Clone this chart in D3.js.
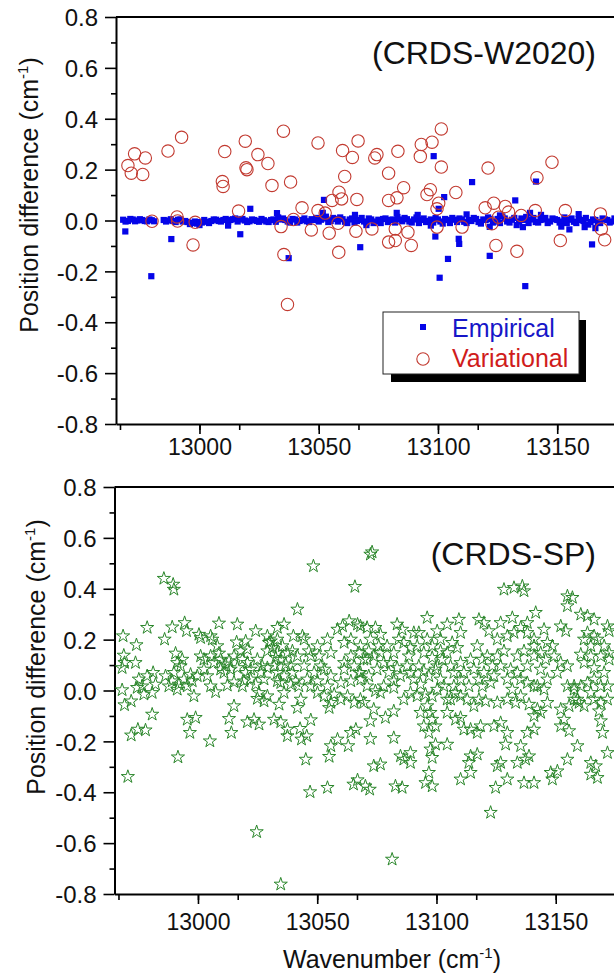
<!DOCTYPE html>
<html>
<head>
<meta charset="utf-8">
<script src="https://cdn.jsdelivr.net/npm/d3@7"></script>
<style>
  body { margin: 0; background: #fff; }
  svg { display: block; font-family: Arial, 'Liberation Sans', sans-serif; }
</style>
</head>
<body>
<svg id="chart" width="614" height="976"></svg>
<script>
// [wavenumber, position difference]
const empirical = [
  [12968,0.003],[12970,-0.002],[12972,0.004],[12974,0.000],[12976,0.002],[12978,-0.003],[12980,0.001],
  [12985,0.002],[12987,0.000],[12989,-0.002],[12991,0.003],[12993,-0.004],[12995,-0.006],[12997,-0.010],
  [12999,-0.012],[13001,-0.008],[13003,-0.005],[13005,-0.002],[13007,0.003],[13009,-0.004],[13011,0.006],
  [13013,0.002],[13015,0.008],[13017,0.004],[13019,0.000],[13021,-0.003],[13023,0.002],[13025,-0.005],
  [13027,0.001],[13029,-0.006],[13031,0.004],[13033,0.012],[13035,0.008],[13037,-0.004],[13039,0.006],
  [13041,-0.008],[13043,0.002],[13045,-0.003],[13047,0.005],[13049,0.010],[13051,0.003],[13053,0.015],
  [13055,-0.002],[13057,0.006],[13059,0.012],[13061,-0.005],[13063,0.004],[13065,-0.008],[13067,0.002],
  [13069,-0.004],[13071,0.008],[13073,-0.010],[13075,0.003],[13077,0.006],[13079,-0.006],[13081,0.004],
  [13083,0.014],[13085,-0.003],[13087,0.005],[13089,-0.008],[13091,0.012],[13093,0.002],[13095,-0.006],
  [13097,0.004],[13099,0.010],[13101,-0.004],[13103,0.006],[13105,-0.010],[13107,0.003],[13109,0.008],
  [13111,-0.005],[13113,0.002],[13115,0.010],[13117,-0.006],[13119,0.004],[13121,0.012],[13123,-0.008],
  [13125,0.006],[13127,0.016],[13129,-0.004],[13131,0.003],[13133,-0.018],[13135,0.008],[13137,0.014],
  [13139,0.004],[13141,-0.006],[13143,0.002],[13145,0.010],[13147,-0.004],[13149,0.005],[13151,-0.008],
  [13153,0.012],[13155,0.003],[13157,-0.005],[13159,0.006],[13161,-0.002],[13163,-0.016],[13165,0.004],
  [13167,-0.006],[13169,0.008],[13171,0.002],[13173,-0.004],[13175,0.005],
  [12969,-0.004],[12971,0.006],[12973,-0.003],[12975,0.005],[12977,-0.002],[12979,0.004],[12981,-0.003],
  [12986,-0.004],[12988,0.005],[12990,-0.006],[12992,0.004],[12994,-0.002],[12996,-0.014],[12998,-0.004],
  [13000,-0.006],[13002,0.002],[13004,-0.010],[13006,0.004],[13008,-0.002],[13010,0.002],[13012,-0.005],
  [13014,0.005],[13016,-0.004],[13018,0.006],[13020,-0.006],[13022,0.004],[13024,-0.002],[13026,0.006],
  [13028,-0.004],[13030,0.002],[13032,-0.005],[13034,0.004],[13036,0.002],[13038,-0.008],[13040,0.004],
  [13042,-0.002],[13044,0.008],[13046,-0.006],[13048,0.002],[13050,-0.004],[13052,0.008],[13054,-0.006],
  [13056,0.010],[13058,-0.004],[13060,0.005],[13062,-0.010],[13064,0.008],[13066,-0.002],[13068,0.010],
  [13070,-0.008],[13072,0.004],[13074,-0.004],[13076,-0.010],[13078,0.008],[13080,0.002],[13082,-0.008],
  [13084,0.004],[13086,0.010],[13088,-0.004],[13090,0.004],[13092,-0.010],[13094,0.008],[13096,-0.002],
  [13098,-0.008],[13100,0.004],[13102,-0.012],[13104,0.002],[13106,0.010],[13108,-0.006],[13110,0.004],
  [13112,-0.010],[13114,-0.002],[13116,0.006],[13118,-0.012],[13120,0.002],[13122,0.006],[13124,-0.004],
  [13126,-0.010],[13128,0.008],[13130,-0.008],[13132,0.010],[13134,-0.004],[13136,0.002],[13138,-0.010],
  [13140,0.010],[13142,-0.008],[13144,0.004],[13146,-0.010],[13148,0.008],[13150,0.002],[13152,-0.004],
  [13154,-0.010],[13156,0.008],[13158,-0.010],[13160,0.002],[13162,0.010],[13164,-0.006],[13166,0.002],
  [13168,-0.010],[13170,0.004],[13172,-0.008],[13174,0.008],[13176,-0.002],
  [13032.5,0.029],[13051.7,0.030],[13065.2,0.022],[13082.7,0.030],[13091.5,0.022],[13126,0.020],
  [13138.6,0.030],[13143.2,0.022],[13012,-0.020],[13000,-0.018],[13070,-0.018],[13097,-0.020],
  [13121.7,-0.025],[13166,-0.030],[13159,0.025],[13112,0.024],
  [12968.9,-0.043],[12979.8,-0.219],[12988.2,-0.073],[13017.1,-0.054],[13021.3,0.046],[13037.4,-0.148],
  [13052.2,0.081],[13067.4,-0.105],[13098.2,0.253],[13114.3,0.151],[13141.1,0.153],[13102.6,0.092],
  [13100.3,0.046],[13132.4,0.079],[13098.9,-0.063],[13108.7,-0.072],[13108.9,-0.092],[13104.2,-0.151],
  [13100.7,-0.225],[13121.7,-0.139],[13136.6,-0.258],[13155.1,-0.035],[13164.6,-0.094],[13151.7,-0.024],
  [13161.5,-0.026],[13135.6,-0.026]
];

const variational = [
  [12970.0,0.216],[12972.8,0.262],[12977.3,0.246],[12971.4,0.186],[12976.2,0.181],[12986.8,0.273],
  [12992.5,0.327],[13010.6,0.271],[13019.2,0.312],[13024.5,0.259],[13028.7,0.224],[13019.5,0.207],
  [13019.9,0.200],[13009.6,0.153],[13009.9,0.134],[13030.4,0.138],[13038.2,0.151],[13035.2,0.351],
  [13049.7,0.305],[13060.0,0.275],[13064.1,0.248],[13066.5,0.313],[13060.9,0.173],[13058.5,0.111],
  [13059.6,0.085],[13066.0,0.083],[13043.0,0.050],[13049.7,0.039],[13016.4,0.037],[12980.1,-0.003],
  [12990.6,0.014],[12990.8,-0.002],[12998.2,-0.007],[13034.2,-0.024],[13039.4,0.004],[13046.9,-0.037],
  [13054.4,-0.050],[13058.1,-0.011],[13065.6,-0.042],[13055.6,0.079],[12997.3,-0.096],[13035.4,-0.134],
  [13058.4,-0.125],[13036.9,-0.330],[13052.7,0.029],
  [13074.4,0.259],[13073.5,0.246],[13083.2,0.272],[13093.0,0.299],[13097.5,0.308],[13092.6,0.252],
  [13101.4,0.360],[13101.4,0.210],[13079.3,0.186],[13085.6,0.129],[13079.3,0.079],[13082.8,0.089],
  [13096.8,0.121],[13095.4,0.102],[13107.5,0.110],[13100.3,0.068],[13099.6,0.046],[13079.3,-0.085],
  [13082.1,-0.079],[13088.8,-0.098],[13087.4,-0.046],[13082.1,-0.033],[13072.3,-0.033],[13099.6,-0.026],
  [13110.1,-0.026],[13121.0,0.206],[13119.8,0.050],[13123.4,0.068],[13128.2,0.055],[13129.6,0.033],
  [13125.4,0.013],[13122.6,-0.013],[13140.8,0.039],[13134.9,0.020],[13124.3,-0.098],[13133.1,-0.121],
  [13141.5,0.168],[13147.8,0.229],[13153.4,0.039],[13151.3,-0.079],[13168.1,0.026],[13168.5,-0.033],
  [13169.9,-0.076]
];

const crdsSP = [
  [12968.6,0.214],[12974.2,0.179],[12968.9,0.138],[12969.2,0.109],[12973.8,0.109],[12968.2,0.089],
  [12968.2,0.002],[12969.2,-0.057],[12972.0,-0.042],[12972.0,-0.176],[12974.8,-0.153],[12978.0,-0.156],
  [12970.6,-0.339],[12978.7,0.247],[12975.2,0.044],[12976.6,0.017],[12978.7,0.057],[12974.5,0.011],
  [12977.3,-0.015],[12980.8,-0.009],[12980.8,-0.094],[12981.2,0.070],[12985.7,0.440],[12989.6,0.417],
  [12989.9,0.397],[12986.0,0.201],[12989.2,0.249],[12994.4,0.266],[12995.2,0.234],[12990.6,0.146],
  [12991.3,0.109],[12992.7,0.096],[12986.4,0.057],[12987.8,0.017],[12989.2,0.037],[12992.0,0.024],
  [12991.3,0.004],[12996.9,0.063],[12997.6,0.037],[12998.3,-0.022],[12995.5,-0.114],[12999.0,-0.107],
  [12996.6,-0.166],[12991.6,-0.262],[13000.4,0.220],[13001.1,0.207],[13005.3,0.214],[13006.0,0.201],
  [13002.5,0.122],[13001.1,0.135],[13008.8,0.264],[13016.5,0.260],[13008.8,0.146],[13009.5,0.122],
  [13006.7,0.109],[13011.6,0.103],[13013.0,0.116],[13015.1,0.135],[13016.2,0.190],[13020.0,0.194],
  [13020.7,0.162],[13018.6,0.122],[13020.7,0.109],[13005.3,0.017],[13007.4,-0.006],[13012.3,0.020],
  [13015.1,0.033],[13018.6,0.017],[13019.3,0.037],[13022.1,0.044],[13015.1,-0.061],[13013.0,-0.111],
  [13014.0,-0.166],[13005.0,-0.199],[13002.5,0.083],[12999.7,0.057],[13003.9,0.057],[13009.5,0.083],
  [13013.7,0.083],[13016.5,0.089],[13024.2,0.234],[13029.1,0.214],[13030.5,0.194],[13031.2,0.168],
  [13029.1,0.155],[13033.3,0.247],[13036.1,0.260],[13041.7,0.319],[13040.0,0.214],[13043.8,0.214],
  [13044.5,0.201],[13033.3,0.148],[13034.7,0.122],[13031.9,0.096],[13033.3,0.070],[13036.1,0.057],
  [13033.3,0.037],[13039.6,0.155],[13041.7,0.135],[13026.3,0.070],[13027.7,0.044],[13024.2,0.024],
  [13025.6,-0.009],[13029.1,-0.022],[13027.7,-0.042],[13024.9,-0.032],[13020.7,-0.124],[13023.5,-0.114],
  [13025.6,-0.133],[13031.9,-0.114],[13034.7,-0.124],[13034.0,-0.055],[13037.5,-0.153],[13037.5,-0.179],
  [13043.1,-0.035],[13041.7,-0.068],[13042.8,-0.150],[13043.4,-0.192],[13045.6,-0.179],[13047.3,-0.116],
  [13045.2,-0.271],[13047.0,-0.399],[13024.6,-0.556],[13034.7,-0.762],[13048.4,0.489],[13036.1,-0.009],
  [13041.0,0.037],[13039.6,0.070],[13044.5,0.096],[13047.3,0.135],[13050.1,0.175],[13054.3,0.201],
  [13055.7,0.148],[13058.5,0.240],[13060.6,0.253],[13063.4,0.273],[13066.9,0.260],[13048.7,0.070],
  [13052.9,0.083],[13055.7,0.057],[13059.9,0.030],[13064.1,0.037],[13068.3,0.044],[13050.1,-0.009],
  [13052.9,-0.022],[13055.7,-0.048],[13059.9,-0.035],[13062.7,-0.022],[13065.5,-0.048],[13055.0,-0.068],
  [13058.5,-0.192],[13055.7,-0.218],[13055.0,-0.260],[13064.1,-0.166],[13066.2,-0.153],[13063.0,-0.218],
  [13054.3,-0.382],[13065.2,-0.369],[13066.9,-0.352],[13065.8,0.408],[13061.3,0.109],[13064.1,0.135],
  [13067.6,0.148],[13061.3,0.188],[13064.1,0.201],
  [13029.8,0.188],[13033.3,0.201],[13035.4,0.175],[13037.5,0.148],[13032.6,0.129],[13036.8,0.103],
  [13038.9,0.096],[13029.1,0.089],[13034.7,0.030],[13038.9,0.024],[13042.3,0.017],[13045.8,0.044],
  [13047.3,0.017],[13050.1,0.037],[13051.5,0.096],[13046.5,0.155],[13050.8,0.135],[13054.3,0.017],
  [13057.1,-0.015],[13061.3,0.083],[13065.5,0.096],[13067.6,0.070],[12993.4,0.122],[12989.9,0.070],
  [12994.1,0.044],[12995.5,0.017],[12982.2,0.024],[13005.3,0.135],[13008.1,0.175],[13010.9,0.070],
  [13017.9,0.155],[13020.0,0.070],[13022.1,0.083],[13024.9,0.122],[13026.9,0.096],
  [13073.0,0.544],[13072.3,0.535],[13068.1,0.253],[13070.9,0.247],[13074.4,0.247],[13076.5,0.220],
  [13068.1,0.175],[13071.6,0.155],[13069.5,0.122],[13073.7,0.135],[13076.5,0.148],[13068.1,0.070],
  [13071.6,0.057],[13075.1,0.083],[13077.9,0.109],[13080.0,0.070],[13082.1,0.037],[13070.9,0.017],
  [13074.4,-0.002],[13077.9,0.017],[13082.1,0.011],[13068.1,-0.035],[13073.7,-0.074],[13078.6,-0.107],
  [13082.1,-0.081],[13072.3,-0.120],[13069.5,-0.048],[13072.3,-0.190],[13082.1,-0.186],[13073.7,-0.297],
  [13076.5,-0.290],[13070.2,-0.376],[13072.0,-0.389],[13082.8,-0.376],[13085.6,-0.382],[13081.4,-0.664],
  [13083.5,0.260],[13085.6,0.240],[13084.2,0.201],[13082.1,0.148],[13080.7,0.109],[13083.5,0.089],
  [13084.9,0.057],[13088.4,0.135],[13090.5,0.227],[13092.6,0.227],[13096.1,0.286],[13096.1,0.201],
  [13098.2,0.175],[13100.3,0.234],[13101.7,0.201],[13092.6,0.096],[13094.7,0.076],[13096.8,0.057],
  [13099.6,0.083],[13101.7,0.044],[13090.5,0.044],[13093.3,0.024],[13091.9,-0.022],[13095.4,-0.015],
  [13098.2,-0.022],[13100.3,0.004],[13103.1,0.017],[13096.1,-0.061],[13097.5,-0.087],[13098.2,-0.114],
  [13094.7,-0.140],[13099.6,-0.140],[13096.8,-0.166],[13099.6,-0.212],[13097.5,-0.231],[13104.5,-0.212],
  [13086.3,-0.271],[13089.1,-0.284],[13098.2,-0.264],[13096.8,-0.323],[13095.4,-0.363],[13098.2,-0.376],
  [13101.7,0.155],[13102.4,0.122],[13089.1,-0.245],[13084.9,-0.258],[13104.5,0.260],[13109.4,0.279],
  [13106.6,0.188],[13108.7,0.168],[13110.1,0.227],[13110.1,0.109],[13111.5,0.070],[13108.0,-0.009],
  [13112.9,-0.035],[13110.1,-0.022],[13105.9,-0.035],[13104.5,-0.087],[13108.0,-0.114],[13110.1,-0.107],
  [13111.5,-0.153],[13114.3,-0.153],[13117.1,-0.166],[13118.5,-0.140],[13114.3,-0.258],[13117.1,-0.251],
  [13113.6,-0.284],[13114.3,-0.323],[13110.1,-0.349],[13117.8,0.279],[13119.9,0.266],[13122.0,0.234],
  [13117.1,0.175],[13119.2,0.122],[13119.9,0.070],[13122.7,0.030],[13119.2,0.017],[13117.8,-0.035],
  [13120.6,-0.042],[13122.7,-0.480],[13124.8,-0.382],[13125.5,-0.297],[13126.9,-0.284],[13129.7,-0.349],
  [13133.9,-0.284],[13137.4,-0.271],[13138.8,-0.258],[13136.7,-0.363],[13140.9,-0.363],[13129.0,-0.212],
  [13135.3,-0.218],[13138.1,-0.166],[13140.9,-0.153],[13129.7,-0.166],[13124.1,-0.140],[13126.9,-0.127],
  [13125.5,-0.048],[13129.7,-0.035],[13133.2,-0.048],[13135.3,-0.022],[13138.8,-0.055],[13135.3,0.044],
  [13138.1,0.030],[13140.9,0.017],[13133.9,0.070],[13131.1,0.083],[13126.9,0.096],[13124.1,0.057],
  [13125.5,0.135],[13128.3,0.155],[13133.9,0.135],[13136.7,0.155],[13125.5,0.201],[13129.7,0.214],
  [13132.5,0.227],[13135.3,0.247],[13138.1,0.227],[13140.9,0.201],[13126.9,0.266],[13131.8,0.286],
  [13138.1,0.266],[13128.3,0.397],[13132.5,0.404],[13136.0,0.410],[13136.7,0.391],[13141.6,0.306],
  [13140.9,0.175],[13143.7,0.148],[13145.1,0.240],[13143.7,0.083],[13142.3,0.017],[13145.1,0.004],
  [13146.5,-0.048],[13142.3,-0.074],[13140.9,-0.100],[13143.7,-0.087],[13145.8,0.122],[13149.3,0.135],
  [13152.1,0.109],[13150.7,0.070],[13154.9,0.096],[13152.1,0.253],[13154.2,0.234],[13154.9,0.371],
  [13157.0,0.365],[13154.9,0.332],[13152.1,-0.074],[13155.6,-0.061],[13153.5,-0.114],[13157.7,0.004],
  [13152.1,-0.140],[13155.6,-0.159],[13159.1,-0.218],[13154.9,-0.271],[13147.9,-0.323],[13150.7,-0.317],
  [13148.6,-0.349],[13160.5,0.299],[13163.3,0.293],[13166.1,0.279],[13161.9,0.201],[13164.7,0.175],
  [13167.5,0.201],[13170.3,0.175],[13172.4,0.234],[13171.7,0.253],[13160.5,0.142],[13164.7,0.135],
  [13168.9,0.135],[13172.4,0.148],[13157.7,0.017],[13160.5,0.017],[13163.3,0.030],[13166.1,0.044],
  [13168.9,0.017],[13171.7,0.017],[13159.1,-0.035],[13161.9,-0.061],[13166.1,-0.035],[13168.9,-0.048],
  [13171.7,-0.035],[13168.2,-0.081],[13168.9,-0.120],[13169.6,-0.166],[13171.7,-0.245],[13164.7,-0.284],
  [13166.8,-0.297],[13164.7,-0.330],[13167.5,-0.343],
  [13072.3,0.201],[13075.8,0.175],[13079.3,0.175],[13086.3,0.188],[13089.1,0.168],[13087.7,0.096],
  [13089.1,0.070],[13104.5,0.148],[13105.9,0.096],[13107.3,0.070],[13114.3,0.122],[13115.7,0.083],
  [13117.8,0.044],[13113.6,0.017],[13115.7,-0.061],[13121.3,0.135],[13123.4,0.096],[13129.7,0.044],
  [13131.8,0.004],[13138.1,0.096],[13140.9,0.135],[13146.5,0.188],[13148.6,0.175],[13146.5,0.044],
  [13154.9,0.017],[13157.7,-0.035],[13159.8,-0.048],[13164.7,-0.009],[13161.9,0.109],[13166.1,0.089],
  [13170.3,0.070],[13172.4,0.122],[13163.3,0.227],[13166.1,0.214],[13076.5,-0.009],[13070.9,0.122],
  [13089.1,-0.009],[13086.3,-0.035],[13093.3,-0.087],[13091.9,0.175],[13094.7,0.148],[13098.2,0.129],
  [13100.3,0.096],[13104.5,-0.035],[13107.3,0.017],[13110.1,0.044]
];

const xTicks = [13000, 13050, 13100, 13150];
const yTicks = [0.8, 0.6, 0.4, 0.2, 0.0, -0.2, -0.4, -0.6, -0.8];
const yMinorTicks = [0.7, 0.5, 0.3, 0.1, -0.1, -0.3, -0.5, -0.7];

const svg = d3.select('#chart');
svg.append('rect').attr('width', 614).attr('height', 976).attr('fill', '#fff');

const panels = [
  { top: 17, bottom: 424, left: 116, tickLabelY: 31, label: '(CRDS-W2020)', labelY: 64, titleX: 38, titleY: 195 },
  { top: 487, bottom: 894, left: 114.5, tickLabelY: 36, label: '(CRDS-SP)', labelY: 565, titleX: 45, titleY: 657 },
];

// minor x ticks: every third of a major step
const xMinorTicks = d3.range(-2, 10).map(i => 13000 + i * 50 / 3).filter((v, i) => (i + 2) % 3 !== 0);

function drawPanel(p) {
  const g = svg.append('g');
  const x = d3.scaleLinear().domain([12965, 13190]).range([p.left, p.left + 225 * 2.385]);
  const y = d3.scaleLinear().domain([-0.8, 0.8]).range([p.bottom, p.top]);

  // minor ticks
  g.append('g')
    .attr('transform', `translate(0, ${p.bottom})`)
    .call(d3.axisBottom(x).tickValues(xMinorTicks).tickSize(6).tickFormat(''))
    .call(a => a.select('.domain').remove());
  g.append('g')
    .attr('transform', `translate(${p.left}, 0)`)
    .call(d3.axisLeft(y).tickValues(yMinorTicks).tickSize(5).tickFormat(''))
    .call(a => a.select('.domain').remove());

  // major ticks + labels
  const xa = g.append('g')
    .attr('transform', `translate(0, ${p.bottom})`)
    .call(d3.axisBottom(x).tickValues(xTicks).tickSize(10).tickSizeOuter(0).tickFormat(d3.format('d')));
  xa.selectAll('text')
    .attr('y', p.tickLabelY).attr('dy', 0)
    .attr('font-size', 23).attr('fill', '#111');

  const ya = g.append('g')
    .attr('transform', `translate(${p.left}, 0)`)
    .call(d3.axisLeft(y).tickValues(yTicks).tickSize(11).tickSizeOuter(0).tickFormat(d => d.toFixed(1)));
  ya.selectAll('text')
    .attr('x', -18).attr('dy', '0.36em')
    .attr('font-size', 24).attr('fill', '#111');

  g.selectAll('.domain').attr('stroke', '#000').attr('stroke-width', 2);
  g.selectAll('.tick line').attr('stroke', '#000').attr('stroke-width', 1.6);

  // top frame line
  g.append('line')
    .attr('x1', p.left).attr('x2', 614)
    .attr('y1', p.top).attr('y2', p.top)
    .attr('stroke', '#000').attr('stroke-width', 2);

  // y title
  const t = g.append('text')
    .attr('transform', `translate(${p.titleX}, ${p.titleY}) rotate(-90)`)
    .attr('text-anchor', 'middle')
    .attr('font-size', 25).attr('fill', '#111');
  t.append('tspan').text('Position difference (cm');
  t.append('tspan').text('-1').attr('font-size', 15).attr('dy', -10);
  t.append('tspan').text(')').attr('dy', 10);

  // panel label
  g.append('text')
    .attr('x', 596).attr('y', p.labelY)
    .attr('text-anchor', 'end')
    .attr('font-size', 32).attr('fill', '#111')
    .text(p.label);

  return { g, x, y };
}

// top panel
const topPanel = drawPanel(panels[0]);
topPanel.g.append('g').selectAll('rect')
  .data(empirical)
  .join('rect')
    .attr('x', d => topPanel.x(d[0]) - 3.1)
    .attr('y', d => topPanel.y(d[1]) - 3.1)
    .attr('width', 6.2)
    .attr('height', 6.2)
    .attr('fill', '#0505e8');

topPanel.g.append('g').selectAll('circle')
  .data(variational)
  .join('circle')
    .attr('cx', d => topPanel.x(d[0]))
    .attr('cy', d => topPanel.y(d[1]))
    .attr('r', 6.2)
    .attr('fill', 'none')
    .attr('stroke', '#c23a30')
    .attr('stroke-width', 1.1);

// legend
const leg = topPanel.g.append('g');
leg.append('rect').attr('x', 391).attr('y', 320).attr('width', 195).attr('height', 62).attr('fill', '#000');
leg.append('rect').attr('x', 383).attr('y', 312).attr('width', 196).attr('height', 62)
  .attr('fill', '#fff').attr('stroke', '#222').attr('stroke-width', 1);
leg.append('rect').attr('x', 420).attr('y', 324).attr('width', 6).attr('height', 6).attr('fill', '#0505e8');
leg.append('circle').attr('cx', 423).attr('cy', 359).attr('r', 6.2)
  .attr('fill', 'none').attr('stroke', '#c23a30').attr('stroke-width', 1.1);
leg.append('text').attr('x', 452).attr('y', 337).attr('font-size', 25).attr('fill', '#1616c8').text('Empirical');
leg.append('text').attr('x', 452).attr('y', 367).attr('font-size', 25).attr('fill', '#d01c1c').text('Variational');

// bottom panel
const botPanel = drawPanel(panels[1]);
const star = d3.symbol().type(d3.symbolStar).size(54);
botPanel.g.append('g').selectAll('path')
  .data(crdsSP)
  .join('path')
    .attr('d', star)
    .attr('transform', d => `translate(${botPanel.x(d[0])}, ${botPanel.y(d[1])})`)
    .attr('fill', 'none')
    .attr('stroke', '#2a862a')
    .attr('stroke-width', 1);

// x title
const xt = svg.append('text')
  .attr('x', 392).attr('y', 968)
  .attr('text-anchor', 'middle')
  .attr('font-size', 25).attr('fill', '#111');
xt.append('tspan').text('Wavenumber (cm');
xt.append('tspan').text('-1').attr('font-size', 15).attr('dy', -10);
xt.append('tspan').text(')').attr('dy', 10);
</script>
</body>
</html>
